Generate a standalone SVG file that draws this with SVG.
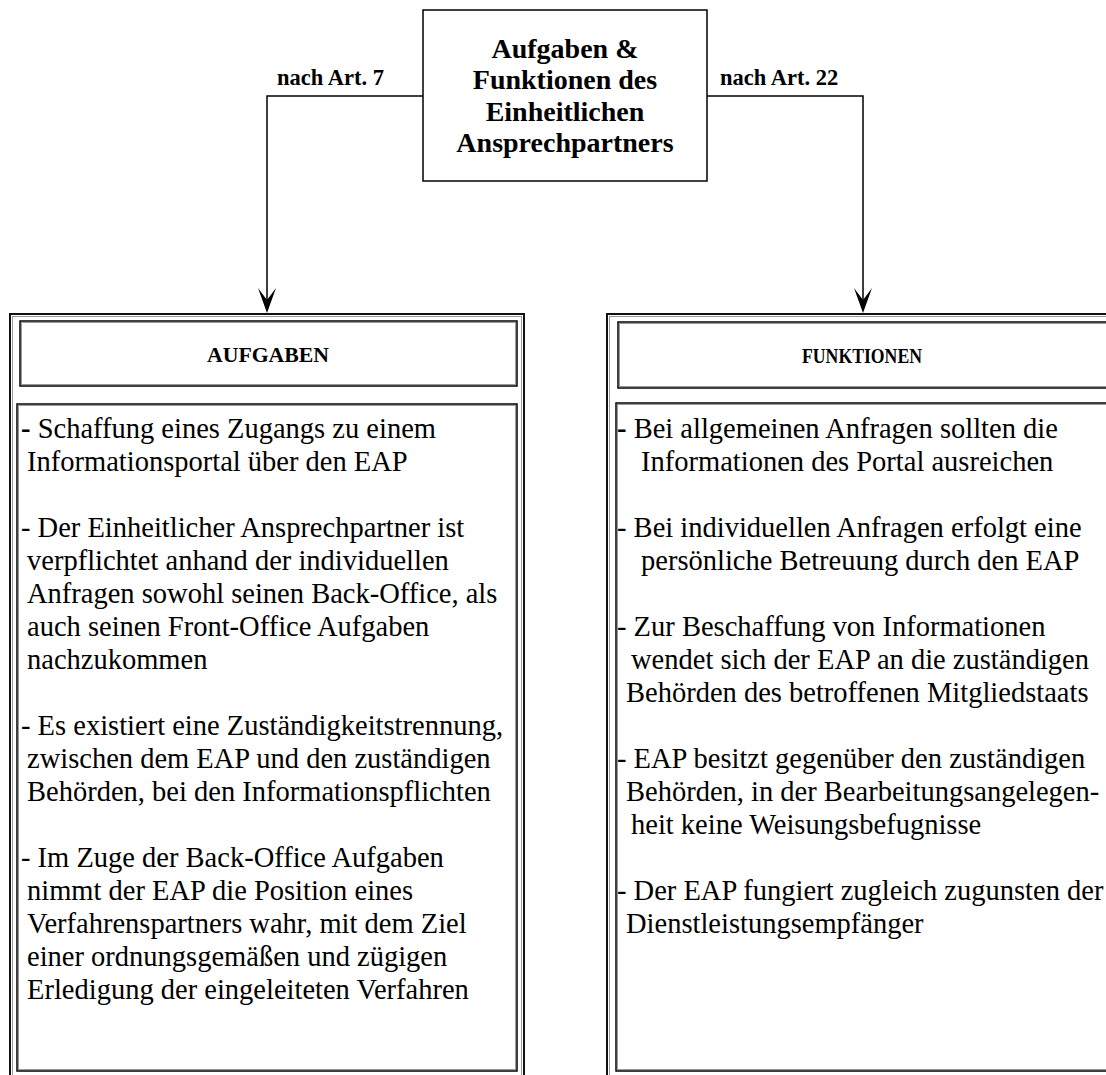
<svg xmlns="http://www.w3.org/2000/svg" width="1106" height="1075" viewBox="0 0 1106 1075">
<defs>
<style>
.box{fill:#fff;stroke:#000;stroke-width:1.5}
.outer{fill:#fff;stroke:#111;stroke-width:2}
.shadow{fill:none;stroke:#999;stroke-width:1}
.title{font-family:"Liberation Serif","Times New Roman",serif;font-weight:bold;font-size:28px;text-anchor:middle;fill:#000}
.lbl{font-family:"Liberation Serif","Times New Roman",serif;font-weight:bold;font-size:22.5px;fill:#000}
.head{font-family:"Liberation Serif","Times New Roman",serif;font-weight:bold;font-size:21px;text-anchor:middle;fill:#000}
.body{font-family:"Liberation Serif","Times New Roman",serif;font-size:28.5px;fill:#000}
.conn{fill:none;stroke:#000;stroke-width:1.5}
</style>
</defs>
<rect width="1106" height="1075" fill="#fff"/>

<g id="connectors">
<path class="conn" d="M423,96 H267 V306"/>
<path class="conn" d="M707,96 H863 V306"/>
<path d="M258,288 L267,313 L276,288 L267,300 Z" fill="#000"/>
<path d="M854,288 L863,313 L872,288 L863,300 Z" fill="#000"/>
<text class="lbl" x="277" y="85">nach Art. 7</text>
<text class="lbl" x="720" y="85">nach Art. 22</text>
</g>

<g id="root">
<rect class="box" x="423" y="10" width="284" height="171"/>
<text class="title" x="565" y="58">Aufgaben &amp;</text>
<text class="title" x="565" y="89">Funktionen des</text>
<text class="title" x="565" y="121">Einheitlichen</text>
<text class="title" x="565" y="152">Ansprechpartners</text>
</g>

<g id="aufgaben">
<rect class="outer" x="10" y="314" width="514" height="780"/>
<rect class="shadow" x="12.5" y="316.5" width="509" height="780"/>
<g id="aufgaben-header">
<rect class="box" x="20" y="321" width="497" height="65"/>
<rect class="shadow" x="21.5" y="322.5" width="494" height="62"/>
<text class="head" x="268" y="362" textLength="122" lengthAdjust="spacingAndGlyphs">AUFGABEN</text>
</g>
<g id="aufgaben-content">
<rect class="box" x="17" y="404" width="500" height="667"/>
<rect class="shadow" x="18.5" y="405.5" width="497" height="664"/>
<text class="body" x="21" y="438"><tspan font-weight="bold">-</tspan> Schaffung eines Zugangs zu einem</text>
<text class="body" x="27" y="471">Informationsportal über den EAP</text>
<text class="body" x="21" y="537">- Der Einheitlicher Ansprechpartner ist</text>
<text class="body" x="27" y="570">verpflichtet anhand der individuellen</text>
<text class="body" x="27" y="603">Anfragen sowohl seinen Back-Office, als</text>
<text class="body" x="27" y="636">auch seinen Front-Office Aufgaben</text>
<text class="body" x="27" y="669">nachzukommen</text>
<text class="body" x="21" y="735">- Es existiert eine Zuständigkeitstrennung,</text>
<text class="body" x="27" y="768">zwischen dem EAP und den zuständigen</text>
<text class="body" x="27" y="801">Behörden, bei den Informationspflichten</text>
<text class="body" x="21" y="867">- Im Zuge der Back-Office Aufgaben</text>
<text class="body" x="27" y="900">nimmt der EAP die Position eines</text>
<text class="body" x="27" y="933">Verfahrenspartners wahr, mit dem Ziel</text>
<text class="body" x="27" y="966">einer ordnungsgemäßen und zügigen</text>
<text class="body" x="27" y="999">Erledigung der eingeleiteten Verfahren</text>
</g>
</g>

<g id="funktionen">
<rect class="outer" x="607" y="314" width="530" height="780"/>
<rect class="shadow" x="609.5" y="316.5" width="530" height="780"/>
<g id="funktionen-header">
<rect class="box" x="618" y="322" width="510" height="66"/>
<rect class="shadow" x="619.5" y="323.5" width="510" height="63"/>
<text class="head" x="862" y="363" textLength="120" lengthAdjust="spacingAndGlyphs">FUNKTIONEN</text>
</g>
<g id="funktionen-content">
<rect class="box" x="616" y="403" width="510" height="668"/>
<rect class="shadow" x="617.5" y="404.5" width="510" height="665"/>
<text class="body" x="617" y="438"><tspan font-weight="bold">-</tspan> Bei allgemeinen Anfragen sollten die</text>
<text class="body" x="641" y="471">Informationen des Portal ausreichen</text>
<text class="body" x="617" y="537">- Bei individuellen Anfragen erfolgt eine</text>
<text class="body" x="641" y="570">persönliche Betreuung durch den EAP</text>
<text class="body" x="617" y="636">- Zur Beschaffung von Informationen</text>
<text class="body" x="631" y="669">wendet sich der EAP an die zuständigen</text>
<text class="body" x="626" y="702">Behörden des betroffenen Mitgliedstaats</text>
<text class="body" x="617" y="768">- EAP besitzt gegenüber den zuständigen</text>
<text class="body" x="626" y="801">Behörden, in der Bearbeitungsangelegen-</text>
<text class="body" x="631" y="834">heit keine Weisungsbefugnisse</text>
<text class="body" x="617" y="900">- Der EAP fungiert zugleich zugunsten der</text>
<text class="body" x="626" y="933">Dienstleistungsempfänger</text>
</g>
</g>
</svg>
